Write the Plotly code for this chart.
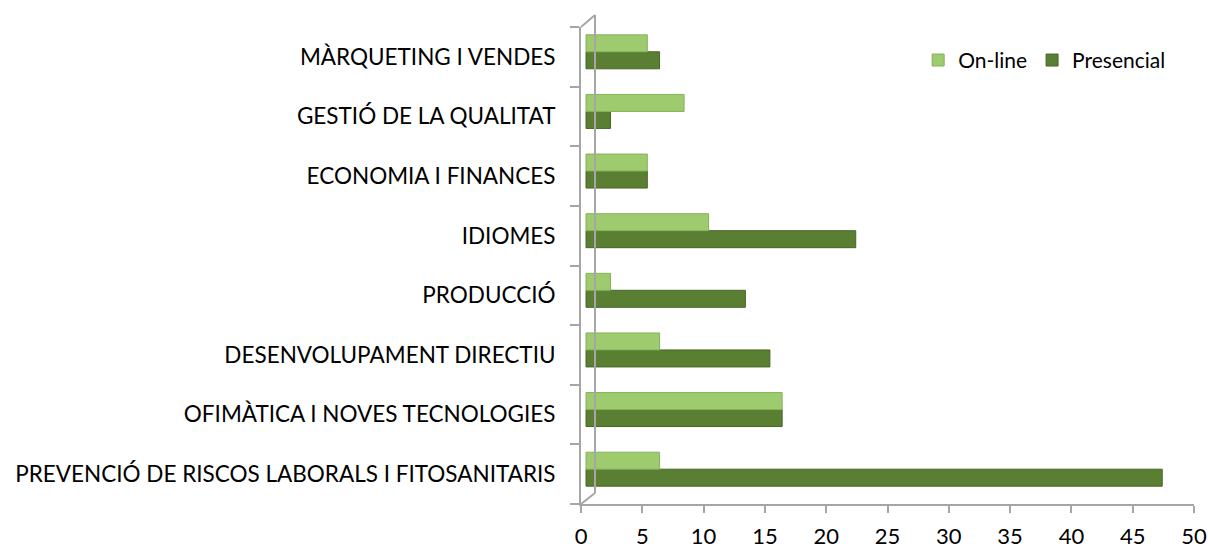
import plotly.graph_objects as go

# ---- dades ----
categories = [
    "PREVENCIÓ DE RISCOS LABORALS I FITOSANITARIS",
    "OFIMÀTICA I NOVES TECNOLOGIES",
    "DESENVOLUPAMENT DIRECTIU",
    "PRODUCCIÓ",
    "IDIOMES",
    "ECONOMIA I FINANCES",
    "GESTIÓ DE LA QUALITAT",
    "MÀRQUETING I VENDES",
]
presencial = [47, 16, 15, 13, 22, 5, 2, 6]
online = [6, 16, 6, 2, 10, 5, 8, 5]
x_ticks = [0, 5, 10, 15, 20, 25, 30, 35, 40, 45, 50]

FONT = "Lato"
AXIS_GREY = "#a6a6a6"

W, H = 1208, 548
L, R, T, B = 581, 14, 27, 44

# desplaçament del pla 3D (les barres queden una mica enrere)
dx_px, dy_px = 5.0, 5.0
px_per_x = (W - L - R) / 50
px_per_slot = (H - T - B) / len(categories)
dx = dx_px / px_per_x
dy = dy_px / px_per_slot

fig = go.Figure()

fig.add_trace(go.Bar(
    y=categories, x=presencial, name="Presencial", orientation="h",
    marker=dict(color="#5b7f32", line=dict(color="#466627", width=1)),
    xaxis="x2", yaxis="y2",
))
fig.add_trace(go.Bar(
    y=categories, x=online, name="On-line", orientation="h",
    marker=dict(color="#9dcb6e", line=dict(color="#86b25a", width=1)),
    xaxis="x2", yaxis="y2",
))
# traça buida perquè es dibuixin els eixos frontals
fig.add_trace(go.Scatter(x=[None], y=[None], showlegend=False,
                         hoverinfo="skip", xaxis="x", yaxis="y"))

# eix frontal (etiquetes i marques)
fig.update_layout(
    xaxis=dict(
        range=[0, 50], tickvals=x_ticks, showline=True, linecolor=AXIS_GREY,
        linewidth=2, ticks="outside", ticklen=7, tickcolor=AXIS_GREY,
        tickwidth=2, showgrid=False, zeroline=False, ticklabelstandoff=5,
        tickfont=dict(family=FONT, size=22, color="#000000"),
        automargin=False,
    ),
    yaxis=dict(
        range=[-0.5, len(categories) - 0.5],
        tickvals=list(range(len(categories))), ticktext=categories,
        showline=True, linecolor=AXIS_GREY, linewidth=2, ticks="",
        showgrid=False, zeroline=False, ticklabelstandoff=19,
        tickfont=dict(family=FONT, size=22.5, color="#000000"),
        minor=dict(tickmode="linear", tick0=-0.5, dtick=1, ticks="outside",
                   ticklen=9, tickcolor=AXIS_GREY, tickwidth=2,
                   showgrid=False),
        automargin=False,
    ),
    xaxis2=dict(overlaying="x", range=[-dx, 50 - dx], visible=False),
    yaxis2=dict(overlaying="y", type="category", categoryorder="array",
                categoryarray=categories, anchor="x2",
                range=[-0.5 - dy, len(categories) - 0.5 - dy], visible=False),
    barmode="group", bargap=0.43, bargroupgap=0,
    width=W, height=H,
    margin=dict(l=L, r=R, t=T, b=B, autoexpand=False),
    paper_bgcolor="white", plot_bgcolor="white",
    showlegend=True,
    legend=dict(orientation="h", x=0.55, y=0.93, xanchor="left",
                yanchor="middle", traceorder="reversed",
                font=dict(family=FONT, size=21, color="#000000"),
                itemwidth=30, bgcolor="rgba(0,0,0,0)"),
)

# paret del fons (efecte 3D), en píxels
pw = W - L - R
ph = H - T - B
def px(xp):
    return (xp - L) / pw
def py(yp):
    return (H - B - yp) / ph

wall = dict(type="line", xref="paper", yref="paper",
            line=dict(color=AXIS_GREY, width=2))
fig.add_shape(**wall, x0=px(595), y0=py(15), x1=px(595), y1=py(493))
fig.add_shape(**wall, x0=px(581), y0=py(27), x1=px(595), y1=py(15))
fig.add_shape(**wall, x0=px(581), y0=py(504), x1=px(595), y1=py(493))

# sense el marge per defecte del body, la figura omple la finestra
fig.write_html("out.html", config={"displayModeBar": False},
               post_script="document.body.style.margin='0px';")
